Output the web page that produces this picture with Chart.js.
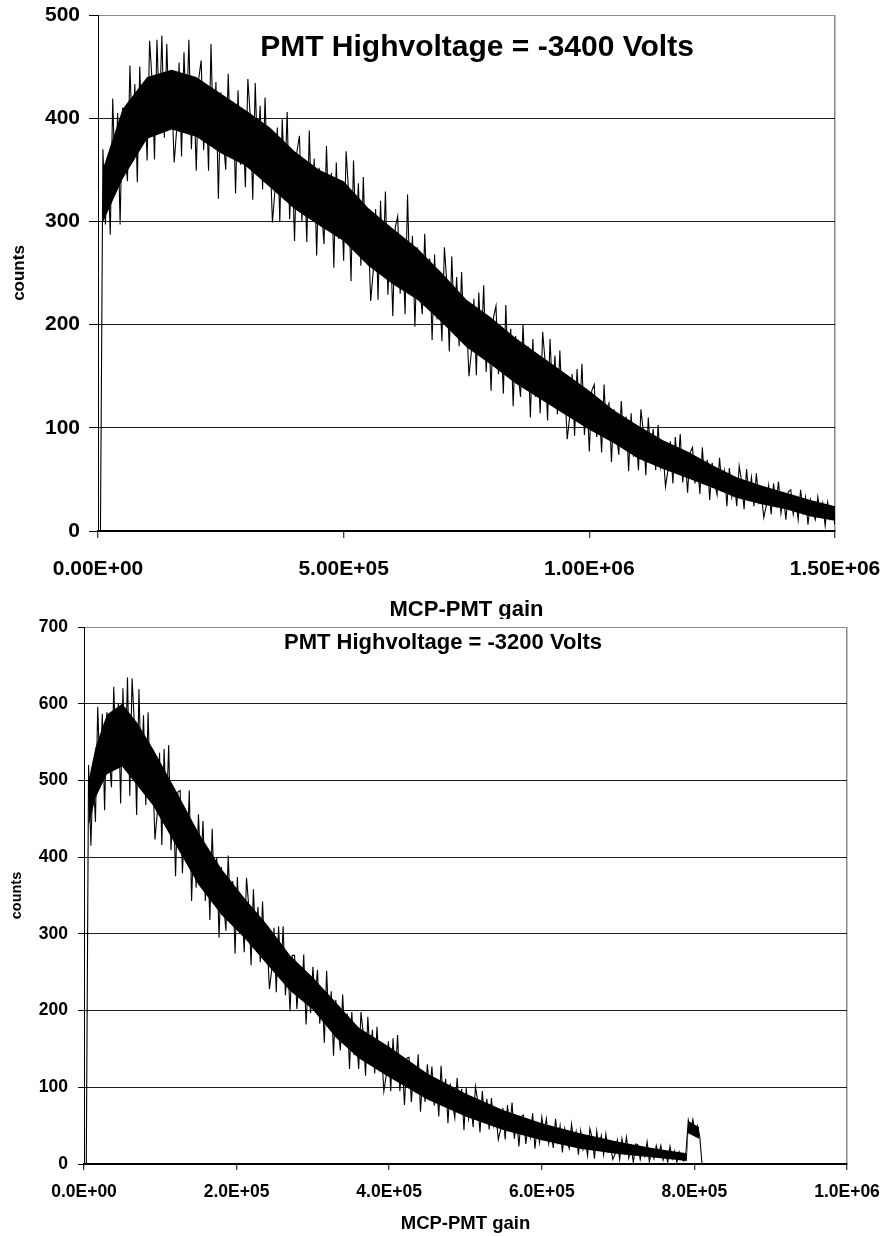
<!DOCTYPE html>
<html>
<head>
<meta charset="utf-8">
<title>MCP-PMT gain spectra</title>
<script src="https://cdn.jsdelivr.net/npm/chart.js@4.4.1/dist/chart.umd.min.js"></script>
<style>
    html, body { margin: 0; padding: 0; background: #fff; }
    body { width: 885px; height: 1236px; position: relative; overflow: hidden; }
    .panel { position: absolute; left: 0; width: 885px; overflow: hidden; }
    #topPanel { top: 0; height: 619px; }
    #bottomPanel { top: 615px; height: 621px; }
    canvas { display: block; }
</style>
</head>
<body>
<div class="panel" id="topPanel"><canvas id="chartTop" width="885" height="625"></canvas></div>
<div class="panel" id="bottomPanel"><canvas id="chartBottom" width="885" height="621"></canvas></div>
<script>
// PMT -3400 V: counts, one every 5000 gain
var gainStepTop = 5000;
var countsTop = [
    0, 0,
    370, 297, 358, 287, 419, 331, 405, 297, 410, 366,
    339, 451, 376, 433, 338, 450, 375, 422, 359, 475,
    437, 360, 476, 403, 480, 381, 472, 394, 424, 357,
    388, 454, 363, 464, 397, 476, 370, 429, 349, 438,
    456, 369, 423, 349, 472, 376, 435, 322, 425, 380,
    350, 443, 371, 416, 327, 427, 355, 393, 333, 438,
    401, 321, 434, 358, 412, 331, 420, 340, 368, 299,
    329, 391, 300, 399, 331, 406, 302, 360, 281, 368,
    383, 300, 351, 280, 388, 306, 361, 267, 352, 311,
    278, 373, 300, 347, 255, 357, 283, 325, 262, 368,
    329, 242, 359, 286, 337, 257, 343, 263, 291, 223,
    251, 312, 224, 320, 254, 329, 229, 286, 208, 294,
    305, 230, 276, 210, 326, 234, 286, 198, 275, 236,
    210, 288, 224, 264, 185, 268, 205, 238, 184, 275,
    240, 174, 266, 204, 246, 179, 251, 185, 206, 150,
    174, 225, 151, 231, 177, 238, 154, 200, 136, 207,
    218, 152, 191, 133, 219, 152, 196, 121, 189, 153,
    130, 200, 145, 179, 110, 186, 130, 161, 114, 193,
    164, 107, 186, 134, 170, 113, 175, 117, 138, 89,
    111, 152, 92, 157, 112, 162, 93, 131, 77, 136,
    142, 91, 121, 76, 142, 91, 125, 67, 118, 93,
    74, 126, 85, 111, 58, 114, 72, 93, 59, 118,
    96, 54, 110, 73, 99, 59, 103, 62, 77, 43,
    59, 87, 46, 91, 60, 94, 47, 73, 37, 76,
    81, 46, 67, 36, 81, 46, 69, 30, 66, 47,
    35, 71, 42, 58, 24, 61, 33, 48, 24, 63,
    48, 21, 60, 33, 52, 24, 56, 28, 37, 13,
    24, 44, 16, 46, 26, 48, 17, 34, 11, 38,
    40, 16, 31, 11, 40, 18, 33, 6, 30, 18,
    11, 33, 15, 27, 5, 28, 12, 20, 6
];
// solid core of the noise band (lower / upper edge)
var bandGainTop = [10000, 50000, 100000, 150000, 200000, 250000, 300000, 350000, 400000, 450000,
    500000, 550000, 600000, 650000, 700000, 750000, 800000, 850000, 900000, 950000,
    1000000, 1050000, 1100000, 1150000, 1200000, 1250000, 1300000, 1350000, 1400000, 1450000, 1500000];
var bandLowTop = [299, 341, 380, 389, 382, 366, 354, 333, 312, 296,
    281, 257, 239, 224, 202, 178, 161, 143, 128, 113,
    98, 85, 70, 60, 51, 42, 32, 26, 21, 14, 10];
var bandHighTop = [351, 409, 440, 447, 440, 424, 408, 391, 368, 350,
    339, 313, 293, 274, 250, 224, 207, 187, 170, 153,
    136, 117, 102, 88, 77, 64, 52, 44, 37, 30, 24];
var gainTicksTop = [0, 500000, 1000000, 1500000];
var countTicksTop = [0, 100, 200, 300, 400, 500];

// PMT -3200 V: counts, one every 3000 gain
var gainStepBottom = 3000;
var countsBottom = [
    0, 0,
    520, 415, 512, 446, 596, 502, 587, 461, 589, 532,
    491, 622, 529, 600, 470, 620, 515, 634, 480, 633,
    574, 455, 619, 509, 585, 468, 589, 477, 513, 423,
    457, 536, 416, 541, 453, 546, 409, 479, 375, 485,
    487, 379, 447, 398, 487, 343, 431, 360, 456, 388,
    447, 343, 402, 318, 437, 342, 400, 295, 387, 339,
    304, 402, 323, 369, 274, 374, 300, 336, 276, 373,
    335, 259, 358, 290, 335, 263, 342, 267, 292, 228,
    253, 308, 224, 310, 248, 310, 220, 266, 199, 272,
    272, 202, 246, 214, 273, 182, 239, 197, 257, 214,
    253, 183, 222, 158, 252, 177, 225, 141, 214, 175,
    148, 221, 161, 196, 124, 198, 142, 168, 124, 198,
    170, 115, 192, 140, 175, 118, 179, 125, 144, 95,
    115, 160, 95, 164, 115, 168, 95, 134, 77, 138,
    139, 81, 119, 93, 143, 68, 116, 81, 130, 97,
    127, 76, 107, 62, 128, 77, 111, 53, 105, 79,
    60, 112, 71, 98, 44, 99, 59, 80, 48, 101,
    82, 41, 95, 59, 85, 45, 86, 50, 63, 32,
    45, 73, 32, 77, 46, 80, 33, 59, 23, 62,
    64, 26, 51, 35, 66, 20, 49, 28, 61, 40,
    59, 27, 46, 21, 59, 30, 50, 15, 46, 30,
    20, 52, 27, 42, 12, 43, 19, 31, 11, 46,
    34, 7, 43, 21, 37, 12, 39, 16, 24, 6,
    13, 31, 6, 33, 15, 35, 8, 23, 2, 26,
    25, 6, 20, 10, 29, 3, 18, 7, 24, 12,
    24, 5, 16, 2, 23, 7, 17, 2, 16, 8,
    4, 16, 57, 44, 58, 40, 50, 36, 0
];
var bandGainBottom = [6000, 15000, 30000, 50000, 70000, 90000, 120000, 150000, 180000, 210000,
    240000, 270000, 300000, 330000, 360000, 400000, 450000, 500000, 550000, 600000,
    650000, 700000, 750000, 790000, 792000, 806000];
var bandLowBottom = [440, 477, 508, 518, 493, 468, 416, 364, 325, 295,
    260, 226, 201, 165, 138, 113, 84, 62, 44, 31,
    20, 13, 8, 4, 40, 33];
var bandHighBottom = [500, 543, 586, 600, 575, 542, 488, 432, 385, 347,
    312, 272, 243, 211, 178, 153, 118, 92, 70, 53,
    40, 29, 20, 14, 56, 48];
var gainTicksBottom = [0, 200000, 400000, 600000, 800000, 1000000];
var countTicksBottom = [0, 100, 200, 300, 400, 500, 600, 700];

var FONT = "'Liberation Sans', Arial, Helvetica, sans-serif";
Chart.defaults.font.family = FONT;
Chart.defaults.color = "#000";

// 1.5e6 -> "1.50E+06"
function sciLabel(value, digits)
{
    var parts = Number(value).toExponential(digits).split("e");
    var exp = parseInt(parts[1], 10);
    var abs = Math.abs(exp);
    return parts[0] + "E" + (exp < 0 ? "-" : "+") + (abs < 10 ? "0" + abs : abs);
}

function stepPoints(counts, step)
{
    return counts.map(function(c, i) { return {x: i * step, y: c}; });
}

function pairPoints(xs, ys)
{
    return xs.map(function(x, i) { return {x: x, y: ys[i]}; });
}

function asTicks(values)
{
    return values.map(function(v) { return {value: v}; });
}

// title written inside the plot area
var panelTitle =
{
    id: "panelTitle",
    afterDatasetsDraw: function(chart, args, opts)
    {
        var ctx = chart.ctx;
        ctx.save();
        ctx.font = "bold " + opts.size + "px " + FONT;
        ctx.fillStyle = "#000";
        ctx.textAlign = opts.align;
        ctx.textBaseline = "middle";
        ctx.fillText(opts.text, opts.x, opts.y);
        ctx.restore();
    }
};

function drawSpectrum(canvasId, s)
{
    var maxGain = s.gainTicks[s.gainTicks.length - 1];
    var maxCount = s.countTicks[s.countTicks.length - 1];

    return new Chart(document.getElementById(canvasId), {
        type: "line",
        data: {
            datasets: [
                {
                    data: stepPoints(s.counts, s.step),
                    borderColor: "#000",
                    borderWidth: 1.1,
                    pointRadius: 0,
                    tension: 0,
                    fill: false
                },
                {
                    data: pairPoints(s.bandGain, s.bandLow),
                    borderWidth: 0,
                    borderColor: "rgba(0,0,0,0)",
                    pointRadius: 0,
                    fill: false
                },
                {
                    data: pairPoints(s.bandGain, s.bandHigh),
                    borderWidth: 0,
                    borderColor: "rgba(0,0,0,0)",
                    backgroundColor: "#000",
                    pointRadius: 0,
                    fill: "-1"
                }
            ]
        },
        plugins: [panelTitle],
        options: {
            responsive: false,
            animation: false,
            devicePixelRatio: 1,
            layout: { padding: s.padding },
            plugins: {
                legend: { display: false },
                tooltip: { enabled: false },
                panelTitle: s.title
            },
            scales: {
                x: {
                    type: "linear",
                    min: 0,
                    max: maxGain,
                    afterBuildTicks: function(scale) { scale.ticks = asTicks(s.gainTicks); },
                    afterFit: function(scale)
                    {
                        scale.height = s.xHeight;
                        scale.paddingLeft = 0;
                        scale.paddingRight = 0;
                    },
                    grid: {
                        drawOnChartArea: true,
                        color: function(c) { return c.tick && c.tick.value === maxGain ? "#8a8a8a" : "rgba(0,0,0,0)"; },
                        lineWidth: 1.5,
                        tickColor: "#000",
                        tickWidth: 1,
                        tickLength: s.xTickLength
                    },
                    border: { color: "#000", width: 2 },
                    ticks: {
                        autoSkip: false,
                        maxRotation: 0,
                        padding: s.xTickPad,
                        color: "#000",
                        font: { size: s.tickSize, weight: "bold" },
                        callback: function(v) { return sciLabel(v, s.digits); }
                    },
                    title: {
                        display: true,
                        text: "MCP-PMT gain",
                        color: "#000",
                        font: { size: s.xTitleSize, weight: "bold", lineHeight: 1 },
                        padding: { top: 0, bottom: s.xTitlePad }
                    }
                },
                y: {
                    min: 0,
                    max: maxCount,
                    afterBuildTicks: function(scale) { scale.ticks = asTicks(s.countTicks); },
                    afterFit: function(scale)
                    {
                        scale.width = s.yWidth;
                        scale.paddingTop = 0;
                        scale.paddingBottom = 0;
                    },
                    grid: {
                        color: function(c) { return c.tick && c.tick.value === maxCount ? "#8a8a8a" : "#1e1e1e"; },
                        lineWidth: 1,
                        tickColor: "#000",
                        tickLength: s.yTickLength
                    },
                    border: { color: "#000", width: 1 },
                    ticks: {
                        padding: s.yTickPad,
                        color: "#000",
                        font: { size: s.tickSize, weight: "bold" }
                    },
                    title: {
                        display: true,
                        text: "counts",
                        color: "#000",
                        font: { size: s.yTitleSize, weight: "bold", lineHeight: 1 },
                        padding: { top: s.yTitlePad, bottom: 0 }
                    }
                }
            }
        }
    });
}

drawSpectrum("chartTop", {
    counts: countsTop,
    step: gainStepTop,
    bandGain: bandGainTop,
    bandLow: bandLowTop,
    bandHigh: bandHighTop,
    gainTicks: gainTicksTop,
    countTicks: countTicksTop,
    digits: 2,
    padding: { top: 15, right: 50, left: 0, bottom: 0 },
    xHeight: 94,
    xTickLength: 7,
    xTickPad: 19,
    tickSize: 21,
    xTitleSize: 22,
    xTitlePad: 4,
    yWidth: 98,
    yTickLength: 9,
    yTickPad: 9,
    yTitleSize: 17,
    yTitlePad: 11,
    title: { text: "PMT Highvoltage = -3400 Volts", size: 30, x: 477, y: 48, align: "center" }
});

drawSpectrum("chartBottom", {
    counts: countsBottom,
    step: gainStepBottom,
    bandGain: bandGainBottom,
    bandLow: bandLowBottom,
    bandHigh: bandHighBottom,
    gainTicks: gainTicksBottom,
    countTicks: countTicksBottom,
    digits: 1,
    padding: { top: 12, right: 38, left: 0, bottom: 0 },
    xHeight: 72,
    xTickLength: 6,
    xTickPad: 12,
    tickSize: 17.5,
    xTitleSize: 18.5,
    xTitlePad: 3,
    yWidth: 84,
    yTickLength: 6,
    yTickPad: 10,
    yTitleSize: 14.5,
    yTitlePad: 10,
    title: { text: "PMT Highvoltage = -3200 Volts", size: 22, x: 284, y: 28, align: "left" }
});
</script>
</body>
</html>
